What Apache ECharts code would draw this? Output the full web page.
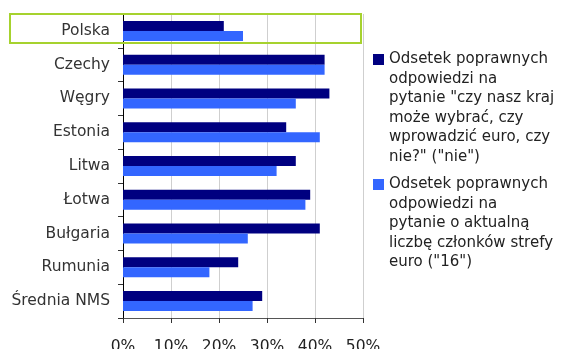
<!DOCTYPE html>
<html>
<head>
<meta charset="utf-8">
<script src="https://cdn.jsdelivr.net/npm/echarts@6/dist/echarts.min.js"></script>
<style>
html,body{margin:0;padding:0;background:#fff;}
#chart{width:563px;height:349px;}
</style>
</head>
<body>
<div id="chart"></div>
<script>
// Kraje (od góry do dołu)
const countries = ['Polska', 'Czechy', 'Węgry', 'Estonia', 'Litwa', 'Łotwa', 'Bułgaria', 'Rumunia', 'Średnia NMS'];
// Odsetek poprawnych odpowiedzi (%)
const choiceQuestion = [21, 42, 43, 34, 36, 39, 41, 24, 29];
const membersQuestion = [25, 42, 36, 41, 32, 38, 26, 18, 27];
const seriesNames = [
  'Odsetek poprawnych\nodpowiedzi na\npytanie "czy nasz kraj\nmoże wybrać, czy\nwprowadzić euro, czy\nnie?" ("nie")',
  'Odsetek poprawnych\nodpowiedzi na\npytanie o aktualną\nliczbę członków strefy\neuro ("16")'
];
const seriesColors = ['#000080', '#3366ff'];
const xTicks = [0, 10, 20, 30, 40, 50];

const FONT = 'DejaVu Sans';
const LEGEND_FS = 15;
const LEGEND_LH = 19.5;

// Legend entry: square marker on the first line, remaining lines indented
function legendEntry(idx, top) {
  const lines = seriesNames[idx].split('\n');
  const txt = lines.map((l, i) => (i === 0 ? '{sq|}{t|' + l + '}' : '{ind|' + l + '}')).join('\n');
  return {
    orient: 'vertical',
    left: 363,
    top: top,
    itemWidth: 0,
    itemHeight: 0,
    icon: 'rect',
    selectedMode: false,
    data: [seriesNames[idx]],
    formatter: () => txt,
    textStyle: {
      rich: {
        sq: {width: 11, height: 11, backgroundColor: seriesColors[idx], verticalAlign: 'middle'},
        t: {fontFamily: FONT, fontSize: LEGEND_FS, color: '#222', lineHeight: LEGEND_LH, padding: [0, 0, 0, 5], verticalAlign: 'middle'},
        ind: {fontFamily: FONT, fontSize: LEGEND_FS, color: '#222', lineHeight: LEGEND_LH, padding: [0, 0, 0, 16], verticalAlign: 'middle'}
      }
    }
  };
}

const chart = echarts.init(document.getElementById('chart'), null, {renderer: 'canvas'});

chart.setOption({
  animation: false,
  textStyle: {fontFamily: FONT},
  grid: {left: 123, top: 14, width: 240, height: 304, outerBoundsMode: 'none', containLabel: false},
  legend: [legendEntry(0, 47), legendEntry(1, 172)],
  xAxis: {
    type: 'value',
    min: xTicks[0],
    max: xTicks[xTicks.length - 1],
    interval: 10,
    axisLine: {show: true, lineStyle: {color: '#555', width: 1}},
    axisTick: {show: true, length: 5, lineStyle: {color: '#333'}},
    axisLabel: {formatter: v => v + '%', fontSize: 15.5, color: '#222', margin: 21, fontFamily: FONT},
    splitLine: {show: true, lineStyle: {color: '#cfcfcf', width: 1}}
  },
  yAxis: {
    type: 'category',
    data: countries,
    inverse: true,
    axisLine: {show: true, lineStyle: {color: '#000', width: 1}},
    axisTick: {show: true, length: 5, lineStyle: {color: '#333'}},
    axisLabel: {fontSize: 15.5, color: '#333', margin: 13, fontFamily: FONT}
  },
  series: [
    {name: seriesNames[0], type: 'bar', data: choiceQuestion, barWidth: 10, barGap: '0%',
     itemStyle: {color: seriesColors[0]}},
    {name: seriesNames[1], type: 'bar', data: membersQuestion, barWidth: 10, barGap: '0%',
     itemStyle: {color: seriesColors[1]}}
  ],
  graphic: [{
    type: 'rect',
    shape: {x: 10, y: 14, width: 351, height: 29},
    style: {fill: 'none', stroke: '#a6d22e', lineWidth: 2},
    z: 100
  }]
});
</script>
</body>
</html>
